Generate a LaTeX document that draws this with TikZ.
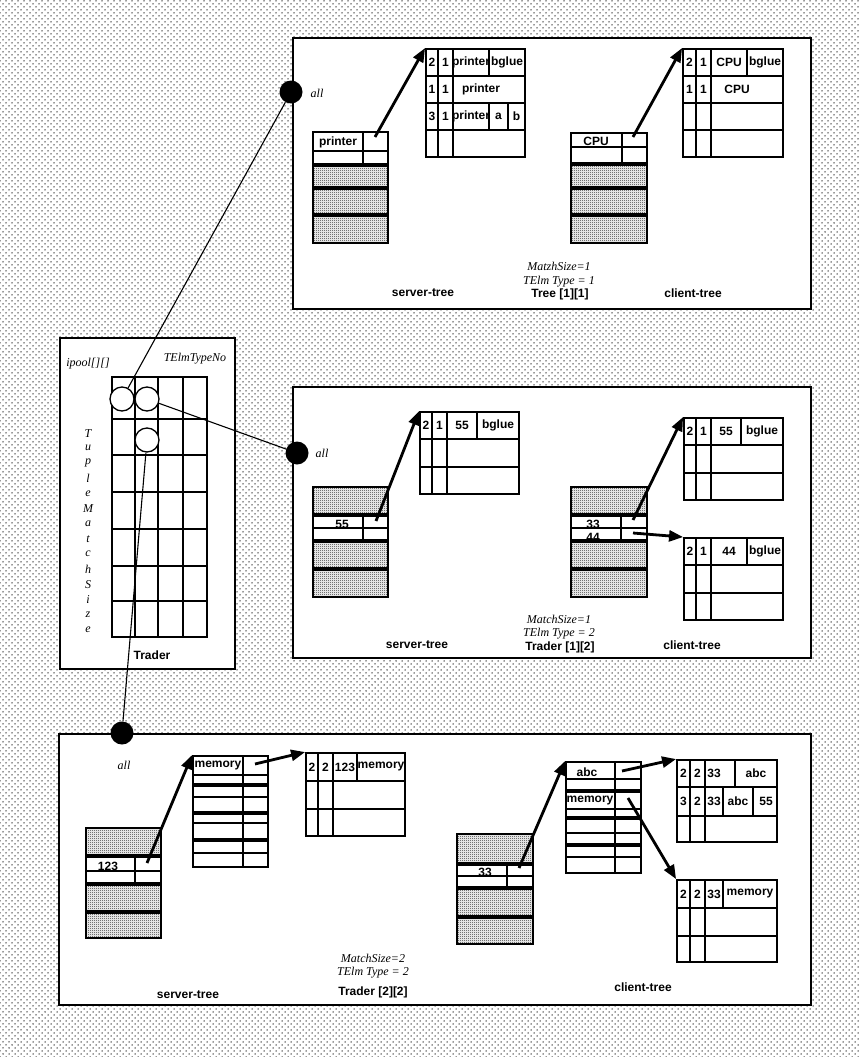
\documentclass[tikz,border=0pt]{standalone}
\usepackage{fontspec}
\setmainfont{Liberation Serif}
\setsansfont{Liberation Sans}
\usetikzlibrary{arrows.meta, positioning, fit, patterns}

\pgfdeclarepatternformonly{bgdots}{\pgfqpoint{-1pt}{-1pt}}{\pgfqpoint{5pt}{5pt}}{\pgfqpoint{6pt}{6pt}}{%
  \pgfpathcircle{\pgfqpoint{0pt}{0pt}}{.75pt}
  \pgfpathcircle{\pgfqpoint{3pt}{3pt}}{.75pt}
  \pgfusepath{fill}}
\pgfdeclarepatternformonly{stipple}{\pgfqpoint{0pt}{0pt}}{\pgfqpoint{2pt}{2pt}}{\pgfqpoint{2pt}{2pt}}{%
  \pgfpathrectangle{\pgfqpoint{0pt}{0pt}}{\pgfqpoint{1pt}{1pt}}
  \pgfpathrectangle{\pgfqpoint{1pt}{1pt}}{\pgfqpoint{1pt}{1pt}}
  \pgfusepath{fill}}

\tikzset{
  panel/.style={draw, fill=white, line width=1.5pt},
  tbl/.style={draw, line width=1.9pt, inner sep=0pt},
  grid/.style={line width=1.9pt},
  band/.style={line width=3.8pt},
  shade/.style={pattern=stipple, pattern color=black!85},
  link/.style={-{Triangle[length=14pt, width=11pt]}, line width=2.8pt},
  wire/.style={line width=1.1pt},
  hub/.style={circle, fill=black, minimum size=23pt, inner sep=0pt},
  ring/.style={circle, draw, fill=white, line width=1.3pt, minimum size=24pt, inner sep=0pt},
  lbl/.style={font=\sffamily\bfseries\fontsize{12}{14}\selectfont, inner sep=0pt},
  note/.style={font=\itshape\fontsize{12}{14}\selectfont, inner sep=0pt},
}
\newcommand{\tbox}[5]{\node[tbl, fit={(#2,#3) (#4,#5)}] (#1) {};}

\begin{document}
\begin{tikzpicture}[x=1pt, y=-1pt]
  \useasboundingbox (0,0) rectangle (860,1057);
  \fill[pattern=bgdots, pattern color=black!80] (0,0) rectangle (860,1057);

  % Tree [1][1]
  \draw[panel] (293,38) rectangle (811,309);
  \fill[shade] (313,165) rectangle (388,243);
  \tbox{s1}{313}{132}{388}{243}
  \draw[grid] (313,151) -- (388,151) (363,132) -- (363,165);
  \foreach \y in {165,188,215} \draw[band] (313,\y) -- (388,\y);
  \node[lbl] (s1t) at (338,142) {printer};
  \coordinate (s1p) at (375,137);

  \tbox{n1}{426}{49}{525}{157}
  \draw[grid] (426,76) -- (525,76) (426,103) -- (525,103) (426,130) -- (525,130)
    (438,49) -- (438,157) (453,49) -- (453,157) (489,49) -- (489,76)
    (489,103) -- (489,130) (508,103) -- (508,130);
  \foreach \x/\t [count=\k] in {432/2, 445.5/1, 471/printer, 507/bglue}
    \node[lbl] (n1a\k) at (\x,62.5) {\t};
  \foreach \x/\t [count=\k] in {432/1, 445.5/1, 481/printer}
    \node[lbl] (n1b\k) at (\x,89.5) {\t};
  \foreach \x/\t [count=\k] in {432/3, 445.5/1, 471/printer, 498.5/a, 516.5/b}
    \node[lbl] (n1c\k) at (\x,116.5) {\t};

  \fill[shade] (571,164) rectangle (647,243);
  \tbox{c1}{571}{133}{647}{243}
  \draw[grid] (571,147) -- (647,147) (622,133) -- (622,164);
  \foreach \y in {164,188,215} \draw[band] (571,\y) -- (647,\y);
  \node[lbl] (c1t) at (596,141) {CPU};
  \coordinate (c1p) at (633,137);

  \tbox{n2}{683}{49}{783}{157}
  \draw[grid] (683,76) -- (783,76) (683,103) -- (783,103) (683,130) -- (783,130)
    (696,49) -- (696,157) (711,49) -- (711,157) (747,49) -- (747,76);
  \foreach \x/\t [count=\k] in {689.5/2, 703.5/1, 729/CPU, 765/bglue}
    \node[lbl] (n2a\k) at (\x,62.5) {\t};
  \foreach \x/\t [count=\k] in {689.5/1, 703.5/1, 737/CPU}
    \node[lbl] (n2b\k) at (\x,89.5) {\t};

  \draw[link] (s1p) -- (n1.north west);
  \draw[link] (c1p) -- (n2.north west);
  \node[lbl] (st1) at (423,293) {server-tree};
  \node[lbl] (ct1) at (693,293) {client-tree};
  \node[note] (ms1) at (559,266) {MatzhSize=1};
  \node[note] (ty1) at (559,282) {TElm Type = 1};
  \node[lbl] (tr1) at (560,294) {Tree [1][1]};

  % Trader [1][2]
  \draw[panel] (293,387) rectangle (811,658);
  \fill[shade] (313,487) rectangle (388,515) (313,541) rectangle (388,597);
  \tbox{s2}{313}{487}{388}{597}
  \draw[grid] (313,528) -- (388,528) (363,515) -- (363,541);
  \foreach \y in {515,541,569} \draw[band] (313,\y) -- (388,\y);
  \node[lbl] (s2t) at (342,524) {55};
  \coordinate (s2p) at (376,521);

  \tbox{n3}{420}{412}{519}{494}
  \draw[grid] (420,439) -- (519,439) (420,467) -- (519,467)
    (432,412) -- (432,494) (447,412) -- (447,494) (477,412) -- (477,439);
  \foreach \x/\t [count=\k] in {426/2, 439.5/1, 462/55, 498/bglue}
    \node[lbl] (n3a\k) at (\x,425.5) {\t};

  \fill[shade] (571,487) rectangle (647,515) (571,541) rectangle (647,597);
  \tbox{c2}{571}{487}{647}{597}
  \draw[grid] (571,528) -- (647,528) (621,515) -- (621,541);
  \foreach \y in {515,541,569} \draw[band] (571,\y) -- (647,\y);
  \node[lbl] (c2t) at (593,524) {33};
  \node[lbl] (c2u) at (593,537) {44};
  \coordinate (c2p) at (633,520);
  \coordinate (c2q) at (633,533);

  \tbox{n4}{684}{418}{783}{500}
  \draw[grid] (684,445) -- (783,445) (684,473) -- (783,473)
    (696,418) -- (696,500) (711,418) -- (711,500) (741,418) -- (741,445);
  \foreach \x/\t [count=\k] in {690/2, 703.5/1, 726/55, 762/bglue}
    \node[lbl] (n4a\k) at (\x,431.5) {\t};

  \tbox{n5}{684}{538}{783}{620}
  \draw[grid] (684,565) -- (783,565) (684,593) -- (783,593)
    (696,538) -- (696,620) (711,538) -- (711,620) (747,538) -- (747,565);
  \foreach \x/\t [count=\k] in {690/2, 703.5/1, 729/44, 765/bglue}
    \node[lbl] (n5a\k) at (\x,551.5) {\t};

  \draw[link] (s2p) -- (n3.north west);
  \draw[link] (c2p) -- (n4.north west);
  \draw[link] (c2q) -- (n5.north west);
  \node[lbl] (st2) at (417,645) {server-tree};
  \node[lbl] (ct2) at (692,645) {client-tree};
  \node[note] (ms2) at (559,619) {MatchSize=1};
  \node[note] (ty2) at (559,634) {TElm Type = 2};
  \node[lbl] (tr2) at (560,647) {Trader [1][2]};

  % Trader [2][2]
  \draw[panel] (59,734) rectangle (811,1005);
  \fill[shade] (86,828) rectangle (161,856) (86,884) rectangle (161,938);
  \tbox{s3}{86}{828}{161}{938}
  \draw[grid] (86,871) -- (161,871) (135,856) -- (135,884);
  \foreach \y in {856,884,912} \draw[band] (86,\y) -- (161,\y);
  \node[lbl] (s3t) at (108,866) {123};
  \coordinate (s3p) at (147,863);

  \tbox{m1}{193}{756}{268}{867}
  \draw[grid] (243,756) -- (243,867);
  \foreach \y in {775,797,823,853} \draw[grid] (193,\y) -- (268,\y);
  \foreach \y in {785,813,840} \draw[band] (193,\y) -- (268,\y);
  \node[lbl] (m1t) at (218,766) {memory};
  \coordinate (m1p) at (255,764);

  \tbox{n6}{306}{753}{405}{836}
  \draw[grid] (306,781) -- (405,781) (306,809) -- (405,809)
    (318,753) -- (318,836) (333,753) -- (333,836) (357,753) -- (357,781);
  \foreach \x/\t [count=\k] in {312/2, 325.5/2, 345/123, 381/memory}
    \node[lbl] (n6a\k) at (\x,767) {\t};

  \fill[shade] (457,834) rectangle (533,864) (457,888) rectangle (533,944);
  \tbox{c3}{457}{834}{533}{944}
  \draw[grid] (457,876) -- (533,876) (507,864) -- (507,888);
  \foreach \y in {864,888,917} \draw[band] (457,\y) -- (533,\y);
  \node[lbl] (c3t) at (485,872) {33};
  \coordinate (c3p) at (519,868);

  \tbox{m2}{566}{762}{641}{873}
  \draw[grid] (615,762) -- (615,873);
  \foreach \y in {779,809,833,857} \draw[grid] (566,\y) -- (641,\y);
  \foreach \y in {791,818,845} \draw[band] (566,\y) -- (641,\y);
  \node[lbl] (m2t) at (587,772) {abc};
  \node[lbl] (m2u) at (590,801) {memory};
  \coordinate (m2p) at (622,771);
  \coordinate (m2q) at (628,798);

  \tbox{n7}{677}{760}{777}{842}
  \draw[grid] (677,787) -- (777,787) (677,816) -- (777,816)
    (690,760) -- (690,842) (705,760) -- (705,842) (735,760) -- (735,787)
    (723,787) -- (723,816) (753,787) -- (753,816);
  \foreach \x/\t [count=\k] in {683.5/2, 697.5/2, 714/33, 756/abc}
    \node[lbl] (n7a\k) at (\x,773.5) {\t};
  \foreach \x/\t [count=\k] in {683.5/3, 697.5/2, 714/33, 738/abc, 766/55}
    \node[lbl] (n7b\k) at (\x,801.5) {\t};

  \tbox{n8}{677}{880}{777}{962}
  \draw[grid] (677,908) -- (777,908) (677,936) -- (777,936)
    (690,880) -- (690,962) (705,880) -- (705,962) (723,880) -- (723,908);
  \foreach \x/\t [count=\k] in {683.5/2, 697.5/2, 714/33, 750/memory}
    \node[lbl] (n8a\k) at (\x,894) {\t};

  \draw[link] (s3p) -- (m1.north west);
  \draw[link] (m1p) -- (n6.north west);
  \draw[link] (c3p) -- (m2.north west);
  \draw[link] (m2p) -- (n7.north west);
  \draw[link] (m2q) -- (n8.north west);
  \node[lbl] (st3) at (188,995) {server-tree};
  \node[lbl] (ct3) at (643,987) {client-tree};
  \node[note] (ms3) at (373,958) {MatchSize=2};
  \node[note] (ty3) at (373,973) {TElm Type = 2};
  \node[lbl] (tr3) at (373,992) {Trader [2][2]};

  % Trader
  \draw[panel] (60,338) rectangle (235,669);
  \draw[grid] (112,377) rectangle (207,637);
  \foreach \x in {135,158,183} \draw[grid] (\x,377) -- (\x,637);
  \foreach \y in {419,455,492,529,566,601} \draw[grid] (112,\y) -- (207,\y);
  \node[note] (ip) at (88,364) {ipool[][]};
  \node[note] (tn) at (195,359) {TElmTypeNo};
  \foreach \c [count=\k] in {T,u,p,l,e,M,a,t,c,h,S,i,z,e}
    \node[note] (v\k) at (88,418+15.1*\k) {\c};
  \node[lbl] (trd) at (152,655) {Trader};

  \node[hub] (hub1) at (291,92) {};
  \node[hub] (hub2) at (297,453) {};
  \node[hub] (hub3) at (122,733) {};
  \node[note] (al1) at (317,93) {all};
  \node[note] (al2) at (322,453) {all};
  \node[note] (al3) at (124,765) {all};

  \node[ring] (r1) at (122,399) {};
  \node[ring] (r2) at (147,399) {};
  \node[ring] (r3) at (147,440) {};
  \draw[wire] (r1) -- (hub1);
  \draw[wire] (r2) -- (hub2);
  \draw[wire] (r3) -- (hub3);
\end{tikzpicture}
\end{document}
